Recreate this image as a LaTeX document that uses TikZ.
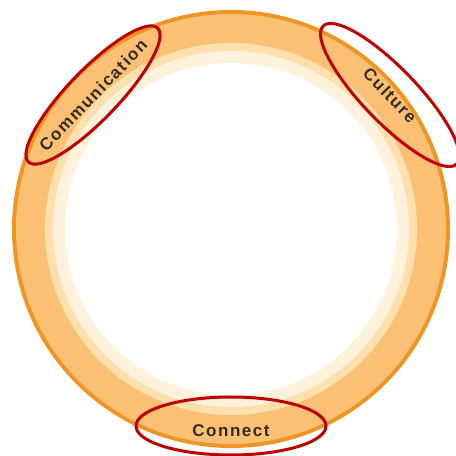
\documentclass[tikz,border=0pt]{standalone}
\usepackage{fontspec}
\setsansfont{Liberation Sans}
\usepackage{tikz}
\usetikzlibrary{shapes.geometric}
\usetikzlibrary{positioning}
\usepackage{xcolor}
\definecolor{ringedge}{RGB}{240,148,36}
\definecolor{ringband}{RGB}{251,192,116}
\definecolor{ringsoft}{RGB}{254,224,174}
\definecolor{ringpale}{RGB}{255,242,220}
\definecolor{marker}{RGB}{190,0,0}
\definecolor{labeltext}{RGB}{52,44,34}

\begin{document}
\begin{tikzpicture}[x=1pt,y=1pt,
    mark oval/.style={ellipse, draw=marker, line width=3pt, inner sep=0pt},
    word/.style={inner sep=0pt,
      font=\sffamily\bfseries\fontsize{17}{17}\selectfont\addfontfeature{LetterSpace=9},
      text=labeltext}]
  \useasboundingbox (0,0) rectangle (456,456);
  % the ring
  \coordinate (c) at (231,227);
  \fill[ringedge] (c) circle (219);
  \fill[ringband] (c) circle (215);
  \fill[ringsoft] (c) circle (186);
  \fill[ringpale] (c) circle (178);
  \fill[white] (c) circle (166);
  % marked words
  \node[mark oval, rotate=46, minimum width=186, minimum height=50] (comm) at (93,361) {};
  \node[word, rotate=46] (commtext) at (comm.center) {Communication};
  \node[mark oval, rotate=-46, minimum width=192, minimum height=54] (cult) at (390,361) {};
  \node[word, rotate=-46] (culttext) at (cult.center) {Culture};
  \node[mark oval, minimum width=190, minimum height=58] (conn) at (231,30) {};
  \node[word] (conntext) at ([yshift=-5pt]conn.center) {Connect};
\end{tikzpicture}
\end{document}
